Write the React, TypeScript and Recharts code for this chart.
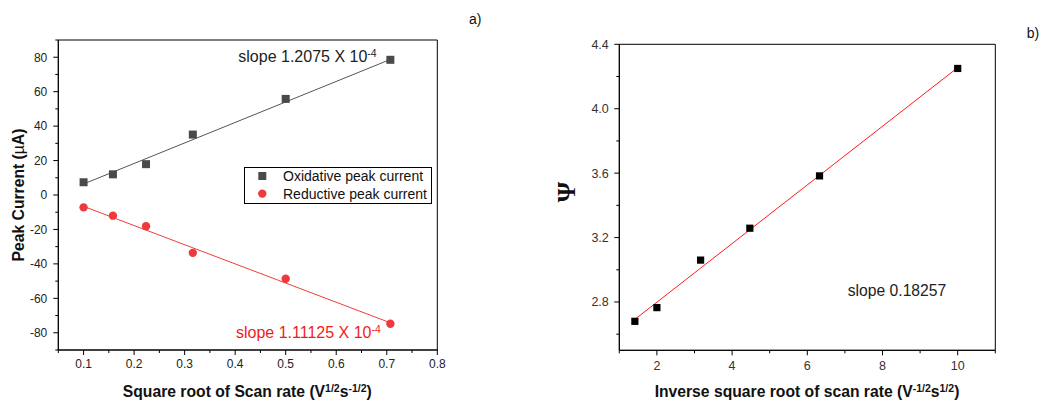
import React from 'react';
import { ScatterChart, Scatter, XAxis, YAxis, ReferenceLine, ReferenceArea, Legend } from 'recharts';

// ---- Panel a) data ----
const scanRoot = [0.1, 0.1581, 0.2236, 0.3162, 0.5, 0.7071];
const oxidative = [7.4, 12.0, 17.9, 35.1, 55.8, 78.5];
const reductive = [-7.2, -12.0, -18.1, -33.6, -48.6, -74.8];
const oxFitX = [0.1, 0.7071];
const oxFitY = [6.4, 78.7];
const redFitX = [0.1, 0.7071];
const redFitY = [-6.6, -74.2];

const xTicksA = [0.05, 0.1, 0.15, 0.2, 0.25, 0.3, 0.35, 0.4, 0.45, 0.5, 0.55, 0.6, 0.65, 0.7, 0.75, 0.8];
const xMajorA = [0.1, 0.2, 0.3, 0.4, 0.5, 0.6, 0.7, 0.8];
const yTicksA = [-90, -80, -70, -60, -50, -40, -30, -20, -10, 0, 10, 20, 30, 40, 50, 60, 70, 80, 90];
const yMajorA = [-80, -60, -40, -20, 0, 20, 40, 60, 80];

// ---- Panel b) data ----
const invRoot = [1.414, 2, 3.162, 4.472, 6.325, 10];
const psi = [2.68, 2.765, 3.06, 3.258, 3.583, 4.25];
const psiFitX = [1.414, 10];
const psiFitY = [2.692, 4.255];

const xTicksB = [1, 2, 3, 4, 5, 6, 7, 8, 9, 10, 11];
const xMajorB = [2, 4, 6, 8, 10];
const yTicksB = [2.6, 2.8, 3.0, 3.2, 3.4, 3.6, 3.8, 4.0, 4.2, 4.4];
const yMajorB = [2.8, 3.2, 3.6, 4.0, 4.4];

const oxData = scanRoot.map((x, i) => ({ x, y: oxidative[i] }));
const redData = scanRoot.map((x, i) => ({ x, y: reductive[i] }));
const psiData = invRoot.map((x, i) => ({ x, y: psi[i] }));

const FONT = '"Liberation Sans", Arial, sans-serif';

const isMajor = (v: number, majors: number[]) => majors.some((m) => Math.abs(m - v) < 1e-9);

const makeBottomTick = (majors: number[], fmt: (v: number) => string, fs: number, off: number, color: string) =>
  (props: any) => {
    const { x, y, payload } = props;
    const v = payload.value;
    const major = isMajor(v, majors);
    return (
      <g>
        <line x1={x} x2={x} y1={y} y2={y + (major ? 5 : 3)} stroke="#000" strokeWidth={1} />
        {major && (
          <text x={x} y={y + off} textAnchor="middle" fontSize={fs} fill={color} fontFamily={FONT}>
            {fmt(v)}
          </text>
        )}
      </g>
    );
  };

const makeLeftTick = (majors: number[], fmt: (v: number) => string, fs: number, gap: number, color: string) =>
  (props: any) => {
    const { x, y, payload } = props;
    const v = payload.value;
    const major = isMajor(v, majors);
    return (
      <g>
        <line x1={x} x2={x - (major ? 5 : 3)} y1={y} y2={y} stroke="#000" strokeWidth={1} />
        {major && (
          <text x={x - gap} y={y + fs * 0.36} textAnchor="end" fontSize={fs} fill={color} fontFamily={FONT}>
            {fmt(v)}
          </text>
        )}
      </g>
    );
  };

const legendShapes: Record<string, string> = {
  'Oxidative peak current': 'square',
  'Reductive peak current': 'circle',
};

const LegendBox = (props: any) => {
  const items = (props.payload || []) as any[];
  return (
    <svg width={188} height={37} style={{ display: 'block', overflow: 'visible' }}>
      <rect x={0.5} y={0.5} width={187} height={36} fill="#fff" stroke="#000" strokeWidth={1} />
      {items.map((it, i) => {
        const cy = 9 + i * 17.6;
        const shape = legendShapes[it.value];
        return (
          <g key={it.value}>
            {shape === 'square' ? (
              <rect x={18.3 - 4} y={cy - 4} width={8} height={8} fill={it.color} />
            ) : (
              <circle cx={18.3} cy={cy} r={4.2} fill={it.color} />
            )}
            <text x={39} y={cy + 5} fontSize={14} fill="#111" fontFamily={FONT}>
              {it.value}
            </text>
          </g>
        );
      })}
    </svg>
  );
};

const OX_COLOR = '#4a4a4a';
const RED_COLOR = '#ee3a3d';

export default function App() {
  return (
    <div style={{ position: 'absolute', left: 0, top: 0, width: 1044, height: 401, background: '#fff', fontFamily: FONT }}>
      <div style={{ position: 'absolute', left: 0, top: 0 }}>
        <ScatterChart width={460} height={401} margin={{ top: 40, right: 22.7, bottom: 21, left: 0 }}>
          <XAxis
            type="number"
            dataKey="x"
            domain={[0.05, 0.8]}
            ticks={xTicksA}
            interval={0}
            height={30}
            tickSize={0}
            tickMargin={0}
            axisLine={{ stroke: '#000', strokeWidth: 1 }}
            tick={makeBottomTick(xMajorA, (v) => String(v), 12, 18.3, '#222')}
            allowDataOverflow
          />
          <YAxis
            type="number"
            dataKey="y"
            domain={[-90, 90]}
            ticks={yTicksA}
            interval={0}
            width={58.3}
            tickSize={0}
            tickMargin={0}
            axisLine={{ stroke: '#000', strokeWidth: 1 }}
            tick={makeLeftTick(yMajorA, (v) => String(v), 12, 11, '#222')}
            allowDataOverflow
          />
          <ReferenceArea x1={0.05} x2={0.8} y1={-90} y2={90} fill="none" stroke="#000" strokeWidth={1} fillOpacity={0} />
          <ReferenceLine
            segment={[{ x: oxFitX[0], y: oxFitY[0] }, { x: oxFitX[1], y: oxFitY[1] }]}
            stroke="#555"
            strokeWidth={1}
          />
          <ReferenceLine
            segment={[{ x: redFitX[0], y: redFitY[0] }, { x: redFitX[1], y: redFitY[1] }]}
            stroke="#f03c3c"
            strokeWidth={1}
          />
          <Scatter
            name="Oxidative peak current"
            data={oxData}
            fill={OX_COLOR}
            isAnimationActive={false}
            shape={(p: any) => <rect x={p.cx - 4} y={p.cy - 4} width={8} height={8} fill={OX_COLOR} />}
          />
          <Scatter
            name="Reductive peak current"
            data={redData}
            fill={RED_COLOR}
            isAnimationActive={false}
            shape={(p: any) => <circle cx={p.cx} cy={p.cy} r={4.2} fill={RED_COLOR} />}
          />
          <Legend
            layout="vertical"
            align="center"
            verticalAlign="middle"
            content={<LegendBox />}
            wrapperStyle={{ left: 244, top: 166.7, width: 188, height: 37 }}
          />
        </ScatterChart>
      </div>

      <div style={{ position: 'absolute', left: 530, top: 0 }}>
        <ScatterChart width={514} height={401} margin={{ top: 44.3, right: 48.7, bottom: 20.7, left: 0 }}>
          <XAxis
            type="number"
            dataKey="x"
            domain={[1, 11]}
            ticks={xTicksB}
            interval={0}
            height={30}
            tickSize={0}
            tickMargin={0}
            axisLine={{ stroke: '#000', strokeWidth: 1 }}
            tick={makeBottomTick(xMajorB, (v) => String(v), 12.5, 20, '#333')}
            allowDataOverflow
          />
          <YAxis
            type="number"
            dataKey="y"
            domain={[2.5, 4.4]}
            ticks={yTicksB}
            interval={0}
            width={89.3}
            tickSize={0}
            tickMargin={0}
            axisLine={{ stroke: '#000', strokeWidth: 1 }}
            tick={makeLeftTick(yMajorB, (v) => v.toFixed(1), 12.5, 10.5, '#333')}
            allowDataOverflow
          />
          <ReferenceArea x1={1} x2={11} y1={2.5} y2={4.4} fill="none" stroke="#000" strokeWidth={1} fillOpacity={0} />
          <ReferenceLine
            segment={[{ x: psiFitX[0], y: psiFitY[0] }, { x: psiFitX[1], y: psiFitY[1] }]}
            stroke="#ff1a1a"
            strokeWidth={1}
          />
          <Scatter
            name="Ψ"
            data={psiData}
            fill="#000"
            isAnimationActive={false}
            shape={(p: any) => <rect x={p.cx - 3.6} y={p.cy - 3.6} width={7.2} height={7.2} fill="#000" />}
          />
        </ScatterChart>
      </div>

      <svg
        width={1044}
        height={401}
        style={{ position: 'absolute', left: 0, top: 0, pointerEvents: 'none', fontFamily: FONT }}
      >
        <text x={469} y={24} fontSize={14} fill="#111">a)</text>
        <text x={1026.7} y={37.5} fontSize={14} fill="#111">b)</text>

        <text x={238.3} y={62} fontSize={16} fill="#222">
          slope 1.2075 X 10<tspan dy={-5.5} fontSize={10.5}>-4</tspan>
        </text>
        <text x={236} y={338} fontSize={16} fill="#f01c1c">
          slope 1.11125 X 10<tspan dy={-5.5} fontSize={10.5}>-4</tspan>
        </text>
        <text x={847.7} y={296} fontSize={15.7} fill="#222">slope 0.18257</text>

        <text x={247.3} y={397} fontSize={15.7} fontWeight="bold" textAnchor="middle" fill="#111">
          Square root of Scan rate (V<tspan dy={-5} fontSize={10.5}>1/2</tspan>
          <tspan dy={5}>s</tspan>
          <tspan dy={-5} fontSize={10.5}>-1/2</tspan>
          <tspan dy={5}>)</tspan>
        </text>
        <text x={807} y={397} fontSize={15.7} fontWeight="bold" textAnchor="middle" fill="#111">
          Inverse square root of scan rate (V<tspan dy={-5} fontSize={10.5}>-1/2</tspan>
          <tspan dy={5}>s</tspan>
          <tspan dy={-5} fontSize={10.5}>1/2</tspan>
          <tspan dy={5}>)</tspan>
        </text>

        <text
          x={23.5}
          y={195}
          transform="rotate(-90, 23.5, 195)"
          fontSize={15.7}
          fontWeight="bold"
          textAnchor="middle"
          fill="#111"
        >
          Peak Current (<tspan fontWeight="normal">µ</tspan>A)
        </text>
        <text
          x={574.6}
          y={192}
          transform="rotate(-90, 574.6, 192)"
          fontSize={26}
          fontWeight="bold"
          textAnchor="middle"
          fill="#111"
          fontFamily='"Liberation Serif", "DejaVu Serif", serif'
        >
          Ψ
        </text>
      </svg>
    </div>
  );
}
